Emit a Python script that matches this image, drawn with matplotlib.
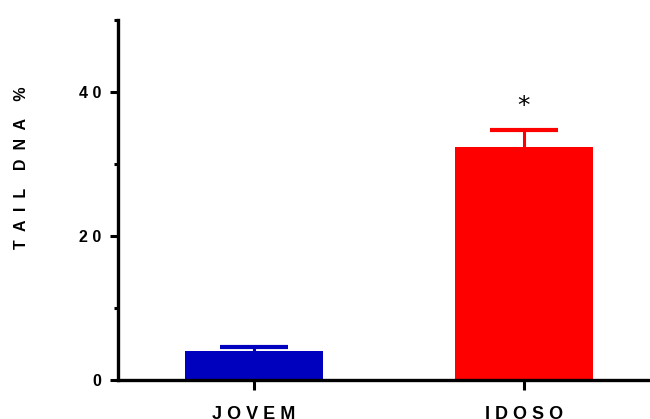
import matplotlib
matplotlib.use("Agg")
import matplotlib.pyplot as plt
from matplotlib.ticker import MultipleLocator

categories = ["J O V E M", "I D O S O"]
values = [4.05, 32.4]
errors = [0.6, 2.3]
colors = ["#0000BF", "#FF0000"]
yticks = [0, 20, 40]
ytick_labels = ["0", "2 0", "4 0"]
star_y = 38.0

plt.rcParams['font.family'] = ['Liberation Sans', 'DejaVu Sans']

fig = plt.figure(figsize=(6.5, 4.19), dpi=100)
ax = fig.add_axes([118/650, 39/419, (650-118)/650, (380-20)/419])

bar_w = 0.51
cap_half = 0.126
x = list(range(len(categories)))
for xi, v, e, c in zip(x, values, errors, colors):
    ax.bar(xi, v, width=bar_w, color=c, zorder=2)
    ax.vlines(xi, v, v + e, color=c, linewidth=2.2, zorder=3)
    ax.hlines(v + e, xi - cap_half, xi + cap_half, color=c, linewidth=3, zorder=3)

ax.text(1, star_y, "*", ha='center', va='center', fontsize=18,
        family='DejaVu Sans')

ax.set_xlim(-0.504, 1.467)
ax.set_ylim(0, 50)
ax.set_xticks(x)
ax.set_xticklabels(categories, fontsize=13, fontweight='bold')
ax.set_yticks(yticks)
ax.set_yticklabels(ytick_labels, fontsize=11.5, fontweight='bold')
ax.yaxis.set_minor_locator(MultipleLocator(10))

for s in ['top', 'right']:
    ax.spines[s].set_visible(False)
for s in ['left', 'bottom']:
    ax.spines[s].set_linewidth(2.4)

ax.tick_params(axis='y', which='major', length=6, width=2.2, pad=6)
ax.tick_params(axis='y', which='minor', length=3, width=2.2)
ax.tick_params(axis='x', which='major', length=7, width=2.2, pad=12)

ax.set_ylabel("T  A  I  L    D  N  A    %", fontsize=11.5, fontweight='bold')
ax.yaxis.set_label_coords(-0.167, 0.59)

fig.savefig("out.png", dpi=100)
